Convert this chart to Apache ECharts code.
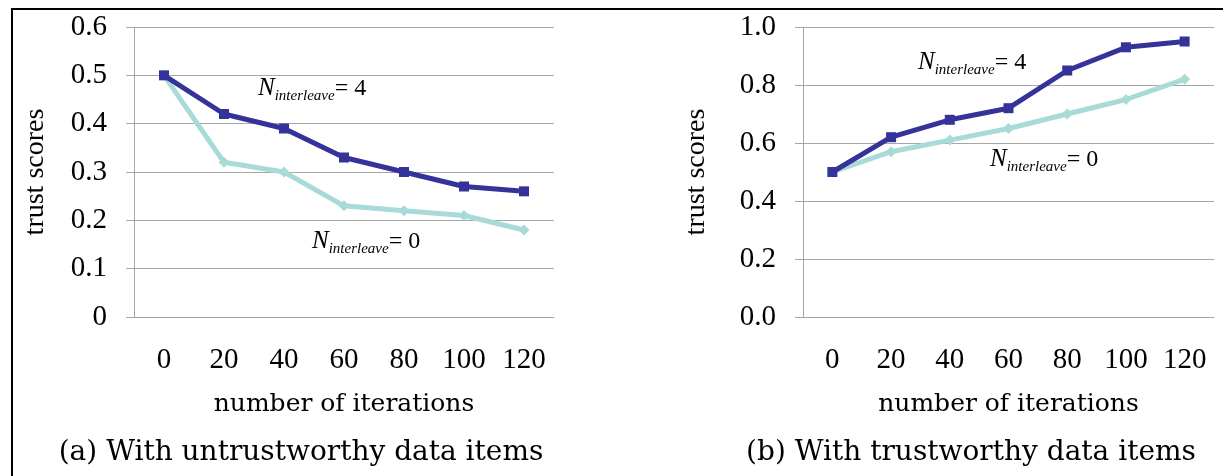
<!DOCTYPE html>
<html>
<head>
<meta charset="utf-8">
<script src="https://cdn.jsdelivr.net/npm/echarts@6/dist/echarts.min.js"></script>
<style>
html,body{margin:0;padding:0;background:#fff;}
#chart{width:1223px;height:476px;}
</style>
</head>
<body>
<div id="chart"></div>
<script>
const iterations = ['0', '20', '40', '60', '80', '100', '120'];
const untrustN4 = [0.50, 0.42, 0.39, 0.33, 0.30, 0.27, 0.26];
const untrustN0 = [0.50, 0.32, 0.30, 0.23, 0.22, 0.21, 0.18];
const trustN4 = [0.50, 0.62, 0.68, 0.72, 0.85, 0.93, 0.95];
const trustN0 = [0.50, 0.57, 0.61, 0.65, 0.70, 0.75, 0.82];
const captionA = '(a) With untrustworthy data items';
const captionB = '(b) With trustworthy data items';
const xName = 'number of iterations';
const yName = 'trust scores';

const SERIF = '"Liberation Serif", "Times New Roman", serif';
const WIDE = '"DejaVu Serif", serif';
const DARK = '#333399';
const LIGHT = '#a8dada';
const GRIDC = '#a6a6a6';

function xAxis(gi) {
  return {
    type: 'category', gridIndex: gi, data: iterations, boundaryGap: true,
    axisLine: { show: true, lineStyle: { color: GRIDC, width: 1 } },
    axisTick: { show: false },
    axisLabel: { color: '#000', fontFamily: SERIF, fontSize: 29, margin: 29 },
    name: xName, nameLocation: 'middle', nameGap: 75,
    nameTextStyle: { color: '#000', fontFamily: WIDE, fontSize: 25 }
  };
}
function yAxis(gi, max, interval, fmt, gap) {
  return {
    type: 'value', gridIndex: gi, min: 0, max: max, interval: interval,
    axisLine: { show: true, lineStyle: { color: GRIDC, width: 1 } },
    axisTick: { show: true, inside: false, length: 8, lineStyle: { color: GRIDC } },
    splitLine: { show: true, lineStyle: { color: GRIDC, width: 1 } },
    axisLabel: { color: '#000', fontFamily: SERIF, fontSize: 29, margin: 27, formatter: fmt },
    name: yName, nameLocation: 'middle', nameGap: gap, nameRotate: 90,
    nameTextStyle: { color: '#000', fontFamily: SERIF, fontSize: 28 }
  };
}
function line(name, data, gi, color, symbol, size) {
  return {
    name: name, type: 'line', xAxisIndex: gi, yAxisIndex: gi, data: data,
    symbol: symbol, symbolSize: size, showSymbol: true,
    lineStyle: { color: color, width: 5 },
    itemStyle: { color: color },
    z: color === DARK ? 3 : 2,
    animation: false
  };
}
const rich = {
  N: { fontFamily: SERIF, fontStyle: 'italic', fontSize: 25, lineHeight: 30, fill: '#000' },
  s: { fontFamily: SERIF, fontStyle: 'italic', fontSize: 15, lineHeight: 14, verticalAlign: 'bottom', fill: '#000' },
  e: { fontFamily: SERIF, fontSize: 24, lineHeight: 30, fill: '#000' }
};
function ann(x, y, v) {
  return {
    type: 'text', left: x, top: y, z: 10,
    style: { text: '{N|N}{s|interleave}{e|= ' + v + '}', rich: rich, fill: '#000' }
  };
}

const chart = echarts.init(document.getElementById('chart'), null, { renderer: 'canvas' });
chart.setOption({
  animation: false,
  backgroundColor: '#fff',
  grid: [
    { left: 134, right: 669, top: 27, bottom: 159 },
    { left: 803, right: 9, top: 27, bottom: 159 }
  ],
  xAxis: [xAxis(0), xAxis(1)],
  yAxis: [
    yAxis(0, 0.6, 0.1, function (v) { return v === 0 ? '0' : v.toFixed(1); }, 84),
    yAxis(1, 1.0, 0.2, function (v) { return v.toFixed(1); }, 92)
  ],
  title: [
    { text: captionA, left: 296, top: 434, textAlign: 'center',
      textStyle: { fontFamily: WIDE, fontSize: 28, fontWeight: 'normal', color: '#000' } },
    { text: captionB, left: 966, top: 434, textAlign: 'center',
      textStyle: { fontFamily: WIDE, fontSize: 28, fontWeight: 'normal', color: '#000' } }
  ],
  series: [
    line('N0a', untrustN0, 0, LIGHT, 'diamond', 11),
    line('N4a', untrustN4, 0, DARK, 'rect', 10),
    line('N0b', trustN0, 1, LIGHT, 'diamond', 11),
    line('N4b', trustN4, 1, DARK, 'rect', 10)
  ],
  graphic: [
    ann(258, 76, 4),
    ann(312, 229, 0),
    ann(918, 50, 4),
    ann(990, 147, 0),
    { type: 'line', shape: { x1: 12, y1: 8, x2: 12, y2: 476 }, style: { stroke: '#000', lineWidth: 2 } },
    { type: 'line', shape: { x1: 11, y1: 9, x2: 1223, y2: 9 }, style: { stroke: '#000', lineWidth: 2 } }
  ]
});
</script>
</body>
</html>
